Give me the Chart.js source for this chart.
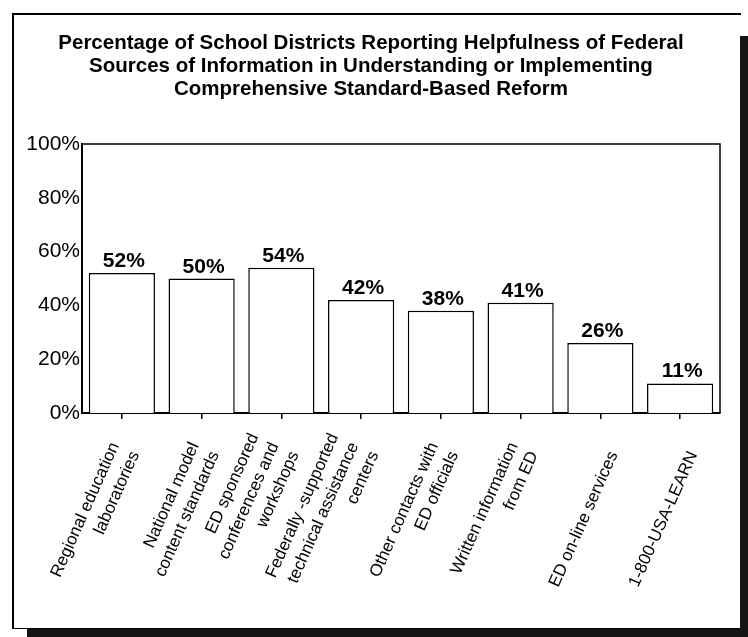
<!DOCTYPE html>
<html><head><meta charset="utf-8">
<script src="https://cdn.jsdelivr.net/npm/chart.js@4.4.1/dist/chart.umd.min.js"></script>
<style>
html,body{margin:0;padding:0;background:#fff;}
#wrap{position:relative;width:748px;height:637px;overflow:hidden;background:#fff;}
.frame{position:absolute;left:12px;top:13px;width:729px;height:616px;border-left:2px solid #000;border-top:2px solid #000;border-bottom:1px solid #000;box-sizing:border-box;}
.rband{position:absolute;left:740px;top:36px;width:8px;height:601px;background:#141414;}
.bband{position:absolute;left:27px;top:629px;width:721px;height:8px;background:#141414;}
canvas{position:absolute;left:0;top:0;}
</style></head><body>
<div id="wrap"><div class="frame"></div><div class="rband"></div><div class="bband"></div><canvas id="c" width="748" height="637"></canvas></div>
<script>
const titleLines = [
  "Percentage of School Districts Reporting Helpfulness of Federal",
  "Sources of Information in Understanding or Implementing",
  "Comprehensive Standard-Based Reform"
];
const categories = [
  "Regional education laboratories",
  "National model content standards",
  "ED sponsored conferences and workshops",
  "Federally -supported technical assistance centers",
  "Other contacts with ED officials",
  "Written information from ED",
  "ED on-line services",
  "1-800-USA-LEARN"
];
const tickLabelLines = [
  ["Regional education", "laboratories"],
  ["National model", "content standards"],
  ["ED sponsored", "conferences and", "workshops"],
  ["Federally -supported", "technical assistance", "centers"],
  ["Other contacts with", "ED officials"],
  ["Written information", "from ED"],
  ["ED on-line services"],
  ["1-800-USA-LEARN"]
];
const percentages = [52, 50, 54, 42, 38, 41, 26, 11];
const yTickValues = [0, 20, 40, 60, 80, 100];

const FAMILY = '"Liberation Sans", Arial, Helvetica, sans-serif';

function padLines(lines) {
  const out = [];
  for (let k = lines.length; k < 3; k++) out.push("");
  return out.concat(lines);
}

const valueLabels = {
  id: 'valueLabels',
  afterDatasetsDraw(chart) {
    const ctx = chart.ctx;
    const meta = chart.getDatasetMeta(0);
    ctx.save();
    ctx.font = 'bold 21px ' + FAMILY;
    ctx.fillStyle = '#000';
    ctx.textAlign = 'center';
    ctx.textBaseline = 'alphabetic';
    meta.data.forEach((bar, i) => {
      ctx.fillText(percentages[i] + '%', bar.x + 2, bar.y - 6);
    });
    ctx.restore();
  }
};

const plotFrame = {
  id: 'plotFrame',
  beforeDatasetsDraw(chart) {
    const a = chart.chartArea, ctx = chart.ctx;
    ctx.save();
    ctx.strokeStyle = '#000';
    ctx.lineWidth = 1.5;
    ctx.beginPath();
    ctx.moveTo(a.left, a.top);
    ctx.lineTo(a.right, a.top);
    ctx.lineTo(a.right, a.bottom);
    ctx.stroke();
    ctx.restore();
  }
};

new Chart(document.getElementById('c'), {
  type: 'bar',
  data: {
    labels: categories,
    datasets: [{
      data: percentages,
      backgroundColor: '#ffffff',
      borderColor: '#000000',
      borderWidth: 1.5,
      barPercentage: 0.83,
      categoryPercentage: 1.0
    }]
  },
  options: {
    responsive: false,
    animation: false,
    devicePixelRatio: 1,
    layout: { padding: { left: 22, right: 28, top: 0, bottom: 0 } },
    plugins: {
      legend: { display: false },
      tooltip: { enabled: false },
      title: {
        display: true,
        text: titleLines,
        color: '#000',
        font: { size: 20.5, weight: 'bold', family: FAMILY, lineHeight: 23 / 20.5 },
        padding: { top: 31.5, bottom: 43.5 }
      }
    },
    scales: {
      x: {
        grid: { display: true, drawOnChartArea: false, drawTicks: true, tickLength: 6, offset: false, color: '#000', lineWidth: 1.5 },
        border: { display: true, color: '#000', width: 2 },
        ticks: {
          autoSkip: false, maxRotation: 66, minRotation: 66,
          padding: 11, labelOffset: -27, color: '#000',
          font: { size: 17, family: FAMILY, lineHeight: 22 / 17 },
          callback: (v, i) => padLines(tickLabelLines[i])
        },
        afterFit(s) { s.height = 224; s.paddingLeft = 0; s.paddingRight = 0; }
      },
      y: {
        min: 0, max: 100,
        afterBuildTicks(s) { s.ticks = yTickValues.map(v => ({ value: v })); },
        ticks: { callback: v => v + '%', color: '#000', font: { size: 21, family: FAMILY }, padding: 2 },
        grid: { display: false, drawTicks: false },
        border: { display: true, color: '#000', width: 2 },
        afterFit(s) { s.width = 60; }
      }
    }
  },
  plugins: [valueLabels, plotFrame]
});
</script>
</body></html>
